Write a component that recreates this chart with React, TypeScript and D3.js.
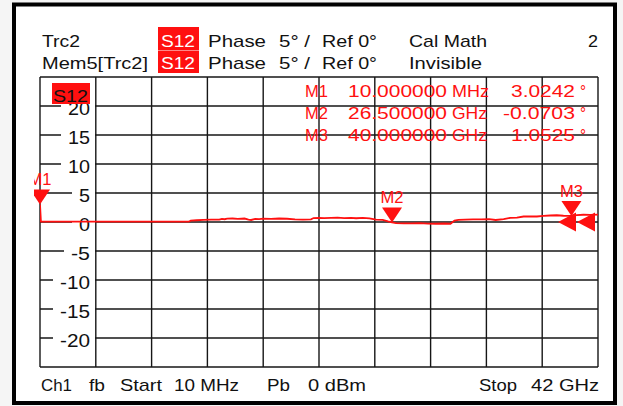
import React from 'react';
import * as d3 from 'd3';

// trace: S12 phase (deg) vs frequency (GHz)
const freqGHz = [
  0.01, 0.08, 11.2, 11.35, 11.8, 12.3, 12.9, 13.5, 13.7, 13.9, 14.1, 14.5, 14.9, 15.4, 15.7, 15.9,
  16.2, 16.5, 16.8, 17.4, 18.0, 18.6, 19.2, 19.8, 20.4, 20.6, 21.0, 21.4, 21.9, 22.4, 22.9, 23.4,
  23.8, 24.3, 24.8, 25.3, 25.8, 26.2, 26.5, 26.8, 27.4, 28.0, 28.6, 29.2, 29.8, 30.4, 30.9, 31.2,
  31.5, 32.0, 32.6, 33.2, 33.8, 34.3, 34.9, 35.4, 35.9, 36.4, 36.9, 37.4, 37.9, 38.4, 38.9, 39.4,
  40.0, 40.4, 40.9, 41.4, 42.0,
];
const phaseDeg = [
  3.02, 0.05, 0.05, 0.22, 0.3, 0.38, 0.4, 0.42, 0.55, 0.48, 0.58, 0.6, 0.55, 0.6, 0.42, 0.35,
  0.52, 0.48, 0.58, 0.55, 0.6, 0.56, 0.45, 0.42, 0.45, 0.68, 0.72, 0.66, 0.7, 0.75, 0.68, 0.72,
  0.65, 0.72, 0.62, 0.42, 0.35, 0.1, -0.07, -0.18, -0.22, -0.25, -0.2, -0.28, -0.3, -0.26, -0.3, 0.25,
  0.38, 0.42, 0.46, 0.44, 0.48, 0.35, 0.5, 0.72, 0.75, 0.95, 0.98, 0.95, 1.05, 1.12, 1.16, 1.08,
  1.05, 1.2, 1.25, 1.22, 1.28,
];

const markerNames = ['M1', 'M2', 'M3'];
const markerFreqGHz = [0.01, 26.5, 40.0];
const markerPhase = [3.0242, -0.0703, 1.0525];

const yTicks = [20, 15, 10, 5, 0, -5, -10, -15, -20];
const refLevels = [0, 0];

const headerRow1 = ['Trc2', 'S12', 'Phase', '5° /', 'Ref 0°', 'Cal Math', '2'];
const headerRow2 = ['Mem5[Trc2]', 'S12', 'Phase', '5° /', 'Ref 0°', 'Invisible'];
const footer = ['Ch1', 'fb', 'Start', '10 MHz', 'Pb', '0 dBm', 'Stop', '42 GHz'];

const RED = '#ff1010';
const GRID = '#161616';
const FONT = '"Liberation Sans", Arial, sans-serif';

// left / right pixel extents of each header & footer item
const headerSpans = [[42, 80], [161, 195], [208, 266], [279, 310], [322, 377], [409, 487], [588, 598]];
const header2Spans = [[42, 148], [161, 195], [208, 266], [279, 310], [322, 377], [409, 482]];
const footerSpans = [[41, 72], [89, 105], [120, 162], [174, 239], [267, 290], [308, 366], [479, 517], [531, 599]];

const T: React.FC<{ x: number; y: number; w: number; s: string; fill?: string; size?: number }> = ({ x, y, w, s, fill = '#111', size = 17 }) => (
  <text x={x} y={y} textLength={w} lengthAdjust="spacingAndGlyphs" fontSize={size} fill={fill}>{s}</text>
);

const numWidth = (s: string, digit: number) =>
  s.split('').reduce((a, c) => a + (c === '-' ? 8 : c === '.' ? 5 : digit), 0);

export default function App() {
  const width = 623;
  const height = 406;
  const L = 40, R = 598, TOP = 77, BOT = 367;

  const x = d3.scaleLinear().domain([0.01, 42]).range([L, R]);
  const y = d3.scaleLinear().domain([-25, 25]).range([BOT, TOP]);

  const vGrid = d3.range(11).map((i) => L + (i * (R - L)) / 10);
  const hGrid = d3.range(-25, 26, 5);

  const pts = freqGHz.map((f, i) => [f, phaseDeg[i]] as [number, number]);
  const line = d3.line<[number, number]>().x((d) => x(d[0])).y((d) => y(d[1]));

  const fmtFreq = (f: number) => (f < 1 ? [(f * 1000).toFixed(6), 'MHz'] : [f.toFixed(6), 'GHz']);

  return (
    <svg width={width} height={height} style={{ position: 'absolute', left: 0, top: 0 }} fontFamily={FONT}>
      <defs>
        <clipPath id="plot">
          <rect x={L} y={TOP} width={R - L} height={BOT - TOP} />
        </clipPath>
        <clipPath id="mk">
          <rect x={34} y={TOP} width={R - 34} height={BOT - TOP} />
        </clipPath>
      </defs>
      <rect width={width} height={height} fill="#f5f5f5" />
      <rect x={14} y={4.5} width={601} height={398.5} fill="#fff" stroke="#000" strokeWidth={4} />

      {/* header */}
      <rect x={158} y={27} width={41} height={23} fill={RED} />
      <rect x={158} y={50.5} width={41} height={22.5} fill={RED} />
      {headerRow1.map((s, i) => (
        <T key={'h1' + i} x={headerSpans[i][0]} y={47} w={headerSpans[i][1] - headerSpans[i][0]} s={s} fill={s === 'S12' ? '#fff' : '#111'} />
      ))}
      {headerRow2.map((s, i) => (
        <T key={'h2' + i} x={header2Spans[i][0]} y={69} w={header2Spans[i][1] - header2Spans[i][0]} s={s} fill={s === 'S12' ? '#fff' : '#111'} />
      ))}

      {/* grid */}
      <g stroke={GRID} strokeWidth={1.4}>
        {hGrid.map((v) => (
          <line key={'h' + v} x1={L} x2={R} y1={y(v)} y2={y(v)} />
        ))}
        {vGrid.map((px, i) => (
          <line key={'v' + i} x1={px} x2={px} y1={TOP} y2={BOT} />
        ))}
      </g>

      {/* y labels */}
      {yTicks.map((v) => {
        const s = String(v);
        const w = numWidth(s, 11);
        return (
          <g key={'yl' + v}>
            <rect x={90 - w - 7} y={y(v) - 8} width={w + 12} height={18} fill="#fff" />
            <T x={90 - w} y={y(v) + 9} w={w} s={s} size={17.5} />
          </g>
        );
      })}

      {/* trace tag */}
      <rect x={52} y={83} width={38} height={21} fill={RED} />
      <T x={53} y={102} w={35} s="S12" />

      {/* marker readout */}
      {markerNames.map((m, i) => {
        const [fs, unit] = fmtFreq(markerFreqGHz[i]);
        const vs = markerPhase[i].toFixed(4);
        const vw = numWidth(vs, 11.8);
        const by = 97 + i * 22;
        return (
          <g key={'mr' + i}>
            <T x={305} y={by} w={23} s={m} fill={RED} />
            <T x={348} y={by} w={99} s={fs} fill={RED} />
            <T x={452} y={by} w={unit === 'MHz' ? 37 : 35} s={unit} fill={RED} />
            <T x={575 - vw} y={by} w={vw} s={vs} fill={RED} />
            <T x={580} y={by} w={6} s="°" fill={RED} />
          </g>
        );
      })}

      {/* trace */}
      <path d={line(pts) ?? ''} fill="none" stroke={RED} strokeWidth={1.8} clipPath="url(#plot)" />

      {/* reference arrows */}
      {refLevels.map((v, i) => {
        const tipX = 558 + i * 19;
        const cy = y(v);
        return <path key={'ref' + i} d={`M${tipX},${cy} L${tipX + 18},${cy - 9.5} L${tipX + 18},${cy + 9.5} Z`} fill={RED} />;
      })}

      {/* markers */}
      <g clipPath="url(#mk)">
        {markerNames.map((m, i) => {
          const mx = x(markerFreqGHz[i]);
          const my = y(markerPhase[i]);
          return (
            <g key={'mk' + i}>
              <path d={`M${mx},${my} L${mx - 10},${my - 15} L${mx + 10},${my - 15} Z`} fill={RED} />
              <T x={mx - 11.5} y={my - 19} w={23} s={m} fill={RED} />
            </g>
          );
        })}
      </g>

      {/* footer */}
      {footer.map((s, i) => (
        <T key={'f' + i} x={footerSpans[i][0]} y={391} w={footerSpans[i][1] - footerSpans[i][0]} s={s} />
      ))}
    </svg>
  );
}
